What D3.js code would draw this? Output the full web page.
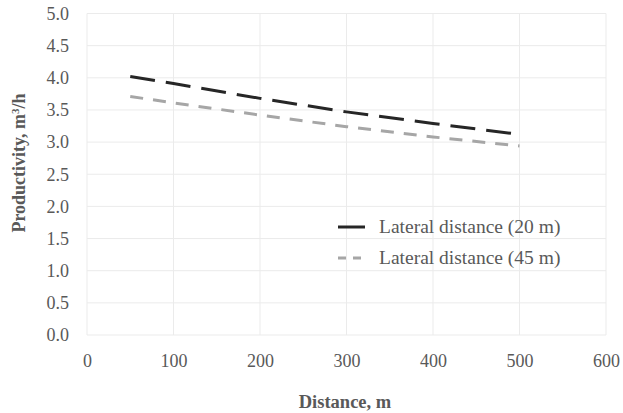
<!DOCTYPE html>
<meta charset="utf-8">
<style>
body { margin: 0; background: #fff; }
text { font-family: "Liberation Serif", "Times New Roman", serif; fill: #595959; }
.grid line { stroke: #ebebeb; stroke-width: 1; }
</style>
<svg width="623" height="413"></svg>
<script src="https://d3js.org/d3.v7.min.js"></script>
<script>

// data
var distances = [50, 100, 200, 300, 400, 500];
var lateral20 = [4.02, 3.91, 3.68, 3.47, 3.29, 3.12];
var lateral45 = [3.71, 3.61, 3.42, 3.24, 3.08, 2.94];
var seriesNames = ["Lateral distance (20 m)", "Lateral distance (45 m)"];
var xTicks = [0, 100, 200, 300, 400, 500, 600];
var yTicks = [0, 0.5, 1, 1.5, 2, 2.5, 3, 3.5, 4, 4.5, 5];

var svg = d3.select("svg");

var plotLeft = 87, plotRight = 606, plotTop = 13.5, plotBottom = 335;

var x = d3.scaleLinear().domain([0, 600]).range([plotLeft, plotRight]);
var y = d3.scaleLinear().domain([0, 5]).range([plotBottom, plotTop]);

// gridlines
var grid = svg.append("g").attr("class", "grid");
grid.selectAll(".gy").data(yTicks).enter().append("line")
    .attr("x1", plotLeft).attr("x2", plotRight)
    .attr("y1", function(d) { return y(d); })
    .attr("y2", function(d) { return y(d); });
grid.selectAll(".gx").data(xTicks).enter().append("line")
    .attr("y1", plotTop).attr("y2", plotBottom)
    .attr("x1", function(d) { return x(d); })
    .attr("x2", function(d) { return x(d); });

// axes (labels only, Excel style)
var xAxis = svg.append("g")
    .attr("transform", "translate(0," + plotBottom + ")")
    .call(d3.axisBottom(x).tickValues(xTicks).tickSize(0).tickPadding(19));
var yAxis = svg.append("g")
    .attr("transform", "translate(" + plotLeft + ",0)")
    .call(d3.axisLeft(y).tickValues(yTicks).tickFormat(d3.format(".1f")).tickSize(0).tickPadding(18));
[xAxis, yAxis].forEach(function(a) {
  a.select(".domain").remove();
  a.selectAll("text")
    .style("font-family", "'Liberation Serif', serif")
    .style("font-size", "18px")
    .attr("fill", "#595959");
});

// series
var line = d3.line()
    .x(function(d) { return x(d[0]); })
    .y(function(d) { return y(d[1]); });

var styles = [
  { colour: "#262626", dash: "25,11" },
  { colour: "#a6a6a6", dash: "13,10" }
];

[lateral20, lateral45].forEach(function(vals, i) {
  svg.append("path")
     .datum(distances.map(function(d, j) { return [d, vals[j]]; }))
     .attr("d", line)
     .attr("fill", "none")
     .attr("stroke", styles[i].colour)
     .attr("stroke-width", 3)
     .attr("stroke-dasharray", styles[i].dash);
});

// legend
var legend = svg.append("g").attr("transform", "translate(338,227)");
seriesNames.forEach(function(name, i) {
  var g = legend.append("g").attr("transform", "translate(0," + (i * 31) + ")");
  g.append("line")
   .attr("x1", 0).attr("x2", 27).attr("y1", 0).attr("y2", 0)
   .attr("stroke", styles[i].colour)
   .attr("stroke-width", 3)
   .attr("stroke-dasharray", i == 0 ? "27,0" : "8,7");
  g.append("text")
   .attr("x", 41).attr("y", 6)
   .style("font-size", "19.5px")
   .text(name);
});

// axis titles
svg.append("text")
   .attr("x", 345).attr("y", 408)
   .attr("text-anchor", "middle")
   .style("font-size", "18.5px")
   .style("font-weight", "bold")
   .attr("fill", "#262626")
   .text("Distance, m");

var yt = svg.append("text")
   .attr("transform", "translate(25,163) rotate(-90)")
   .attr("text-anchor", "middle")
   .style("font-size", "18px")
   .style("font-weight", "bold")
   .attr("fill", "#262626");
yt.append("tspan").text("Productivity, m");
yt.append("tspan").attr("baseline-shift", "super").style("font-size", "11px").text("3");
yt.append("tspan").text("/h");

</script>
